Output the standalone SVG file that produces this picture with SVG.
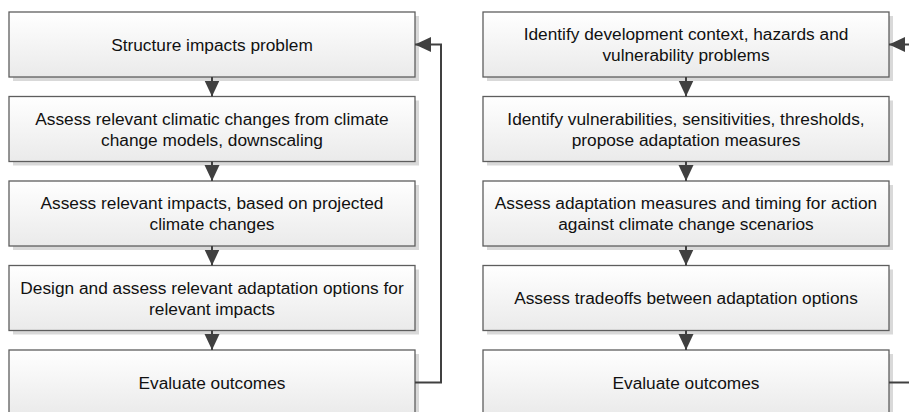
<svg xmlns="http://www.w3.org/2000/svg" width="909" height="412" viewBox="0 0 909 412">
  <defs>
    <linearGradient id="boxFill" x1="0" y1="0" x2="0" y2="1">
      <stop offset="0" stop-color="#ffffff"/>
      <stop offset="1" stop-color="#eaeaea"/>
    </linearGradient>
    <marker id="arrow" viewBox="0 0 16 16" refX="16" refY="8" markerWidth="16" markerHeight="16" markerUnits="userSpaceOnUse" orient="auto">
      <path d="M0,0.5 L16,8 L0,15.5 Z" fill="#404040"/>
    </marker>
    <style>
      .shadow { fill: #d9d9d9; }
      .box { fill: url(#boxFill); stroke: #5e5e5e; stroke-width: 1.3; }
      .label { font-family: "Liberation Sans", Arial, sans-serif; font-size: 17.3px; fill: #111111; text-anchor: middle; }
      .conn { fill: none; stroke: #404040; stroke-width: 2; }
      .arr { marker-end: url(#arrow); }
    </style>
  </defs>

  <!-- left column -->
  <g id="l1">
    <rect class="shadow" x="13" y="16" width="406" height="65"/>
    <rect class="box" x="9" y="12" width="406" height="65"/>
    <text class="label" x="212" y="50.5">Structure impacts problem</text>
  </g>
  <g id="l2">
    <rect class="shadow" x="13" y="100.5" width="406" height="65"/>
    <rect class="box" x="9" y="96.5" width="406" height="65"/>
    <text class="label" x="212" y="124.5">Assess relevant climatic changes from climate</text>
    <text class="label" x="212" y="145.5">change models, downscaling</text>
  </g>
  <g id="l3">
    <rect class="shadow" x="13" y="185" width="406" height="65"/>
    <rect class="box" x="9" y="181" width="406" height="65"/>
    <text class="label" x="212" y="209">Assess relevant impacts, based on projected</text>
    <text class="label" x="212" y="230">climate changes</text>
  </g>
  <g id="l4">
    <rect class="shadow" x="13" y="269.5" width="406" height="65"/>
    <rect class="box" x="9" y="265.5" width="406" height="65"/>
    <text class="label" x="212" y="293.5">Design and assess relevant adaptation options for</text>
    <text class="label" x="212" y="314.5">relevant impacts</text>
  </g>
  <g id="l5">
    <rect class="shadow" x="13" y="354" width="406" height="65"/>
    <rect class="box" x="9" y="350" width="406" height="65"/>
    <text class="label" x="212" y="388.5">Evaluate outcomes</text>
  </g>

  <!-- right column -->
  <g id="r1">
    <rect class="shadow" x="487" y="16" width="406" height="65"/>
    <rect class="box" x="483" y="12" width="406" height="65"/>
    <text class="label" x="686" y="40">Identify development context, hazards and</text>
    <text class="label" x="686" y="61">vulnerability problems</text>
  </g>
  <g id="r2">
    <rect class="shadow" x="487" y="100.5" width="406" height="65"/>
    <rect class="box" x="483" y="96.5" width="406" height="65"/>
    <text class="label" x="686" y="124.5">Identify vulnerabilities, sensitivities, thresholds,</text>
    <text class="label" x="686" y="145.5">propose adaptation measures</text>
  </g>
  <g id="r3">
    <rect class="shadow" x="487" y="185" width="406" height="65"/>
    <rect class="box" x="483" y="181" width="406" height="65"/>
    <text class="label" x="686" y="209">Assess adaptation measures and timing for action</text>
    <text class="label" x="686" y="230">against climate change scenarios</text>
  </g>
  <g id="r4">
    <rect class="shadow" x="487" y="269.5" width="406" height="65"/>
    <rect class="box" x="483" y="265.5" width="406" height="65"/>
    <text class="label" x="686" y="304">Assess tradeoffs between adaptation options</text>
  </g>
  <g id="r5">
    <rect class="shadow" x="487" y="354" width="406" height="65"/>
    <rect class="box" x="483" y="350" width="406" height="65"/>
    <text class="label" x="686" y="388.5">Evaluate outcomes</text>
  </g>

  <!-- connectors -->
  <g id="connectors">
    <path class="conn arr" d="M212,77 V96.5"/>
    <path class="conn arr" d="M212,161.5 V181"/>
    <path class="conn arr" d="M212,246 V265.5"/>
    <path class="conn arr" d="M212,330.5 V350"/>
    <path class="conn arr" d="M415,382.5 H441 V44.5 H415"/>

    <path class="conn arr" d="M686,77 V96.5"/>
    <path class="conn arr" d="M686,161.5 V181"/>
    <path class="conn arr" d="M686,246 V265.5"/>
    <path class="conn arr" d="M686,330.5 V350"/>
    <path class="conn" d="M889,382.5 H915"/>
    <path class="conn arr" d="M915,44.5 H889"/>
  </g>
</svg>
